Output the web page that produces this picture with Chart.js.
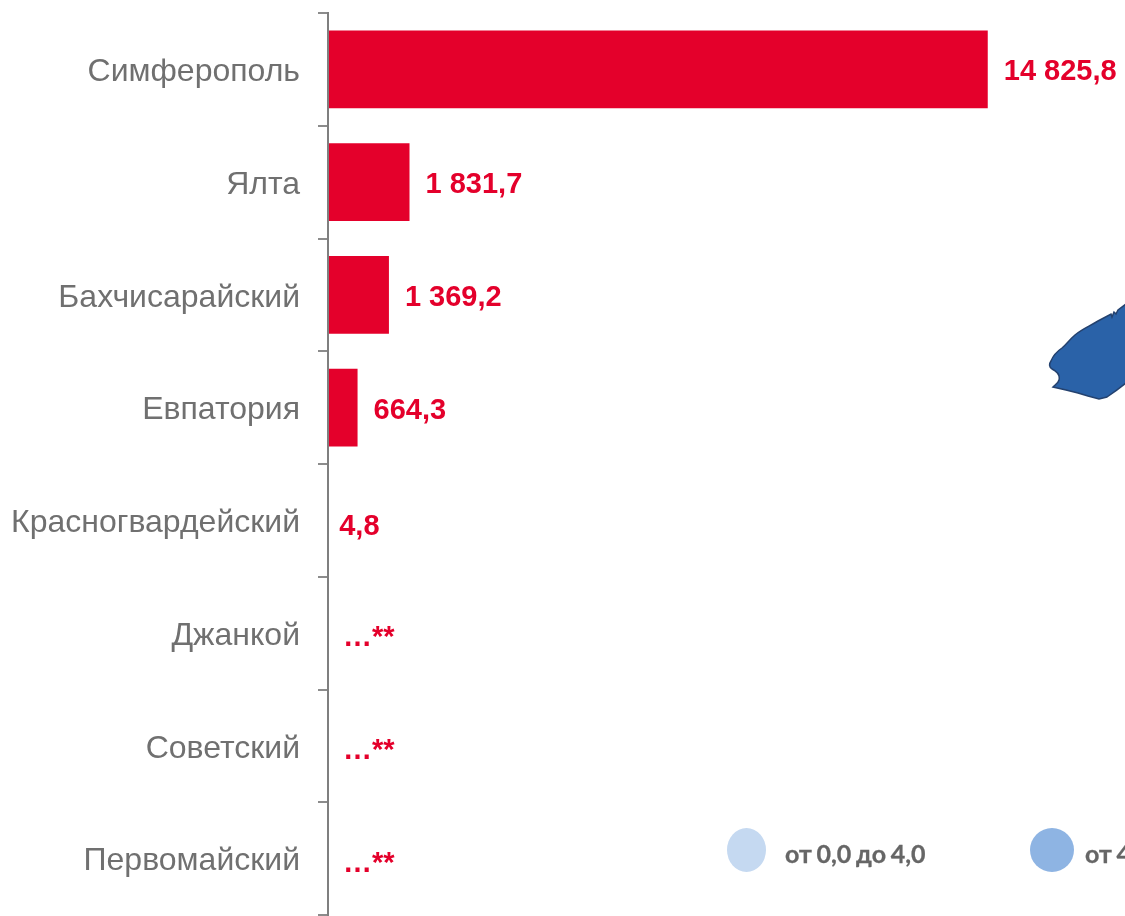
<!DOCTYPE html>
<html lang="ru">
<head>
<meta charset="utf-8">
<style>
html,body{margin:0;padding:0;background:#fff;width:1125px;height:916px;overflow:hidden}
#wrap{position:relative;width:1125px;height:916px;overflow:hidden}
canvas{position:absolute;left:0;top:0}
.dot{position:absolute;border-radius:50%}
.leg{position:absolute;font:bold 25px Lato,sans-serif;color:#666;white-space:nowrap;word-spacing:-1.4px;-webkit-text-stroke:0.3px #666}
svg{position:absolute;left:0;top:0}
</style>
</head>
<body>
<div id="wrap">
<canvas id="c" width="1125" height="916"></canvas>
<svg width="1125" height="916"><path d="M1126 304L1118 310L1116 314L1114 312L1112 317L1111 314L1098 321C1090 326 1082 329 1075 335C1068 341 1067 344 1062 348C1056 352 1053 356 1051 361C1049 364 1049 367 1052 369C1058 372 1060 376 1059 380C1058 384 1055 385 1053 387L1066 390L1078 393L1088 396L1099 399L1107 397C1113 393 1120 388 1126 383Z" fill="#2a62a8" stroke="#24426f" stroke-width="1.5"/></svg>
<div class="dot" style="left:727px;top:828px;width:39px;height:44px;background:#c5d9f1"></div>
<div class="leg" style="left:785px;top:838px">от 0,0 до 4,0</div>
<div class="dot" style="left:1030px;top:828px;width:44px;height:44px;background:#8eb4e3"></div>
<div class="leg" style="left:1085px;top:838px">от 4</div>
</div>
<script src="https://cdn.jsdelivr.net/npm/chart.js@4"></script>
<script>
const categories = ['Симферополь','Ялта','Бахчисарайский','Евпатория','Красногвардейский','Джанкой','Советский','Первомайский'];
const values = [14825.8,1831.7,1369.2,664.3,4.8,null,null,null];
const valueLabels = ['14 825,8','1 831,7','1 369,2','664,3','4,8','…**','…**','…**'];
const valueMax = 17910;

const barLabels = {
  id:'barLabels',
  afterDatasetsDraw(chart){
    const {ctx,scales:{x,y}} = chart;
    ctx.save();
    ctx.font = 'bold 29px "Liberation Sans", Arial, sans-serif';
    ctx.fillStyle = '#e4002b';
    ctx.textAlign = 'left';
    ctx.textBaseline = 'middle';
    valueLabels.forEach((t,i)=>{
      const v = values[i];
      const px = x.getPixelForValue(v === null ? 0 : v);
      const off = v === null ? 15 : (v < 100 ? 11 : 16);
      const dy = v === null ? 5 : (v < 100 ? 7 : 3);
      ctx.fillText(t, px + off, y.getPixelForValue(i) + dy);
    });
    ctx.restore();
  }
};

new Chart(document.getElementById('c'),{
  type:'bar',
  data:{labels:categories,datasets:[{data:values,backgroundColor:'#e4002b',borderWidth:0,barPercentage:0.69,categoryPercentage:1}]},
  plugins:[barLabels],
  options:{
    indexAxis:'y',
    responsive:false,
    animation:false,
    layout:{padding:{top:13,bottom:1,left:0,right:0}},
    plugins:{legend:{display:false},tooltip:{enabled:false}},
    scales:{
      x:{display:false,min:0,max:valueMax},
      y:{
        offset:true,
        afterFit(s){s.width=328;s.paddingTop=0;s.paddingBottom=0;},
        border:{display:true,color:'#7f7f7f',width:2,z:1},
        grid:{offset:true,drawOnChartArea:false,drawTicks:true,tickLength:10,color:'#8c8c8c',lineWidth:2},
        ticks:{color:'#707070',padding:18,labelOffset:3,font:{family:'"Liberation Sans", Arial, sans-serif',size:32},autoSkip:false}
      }
    }
  }
});
</script>
</body>
</html>
